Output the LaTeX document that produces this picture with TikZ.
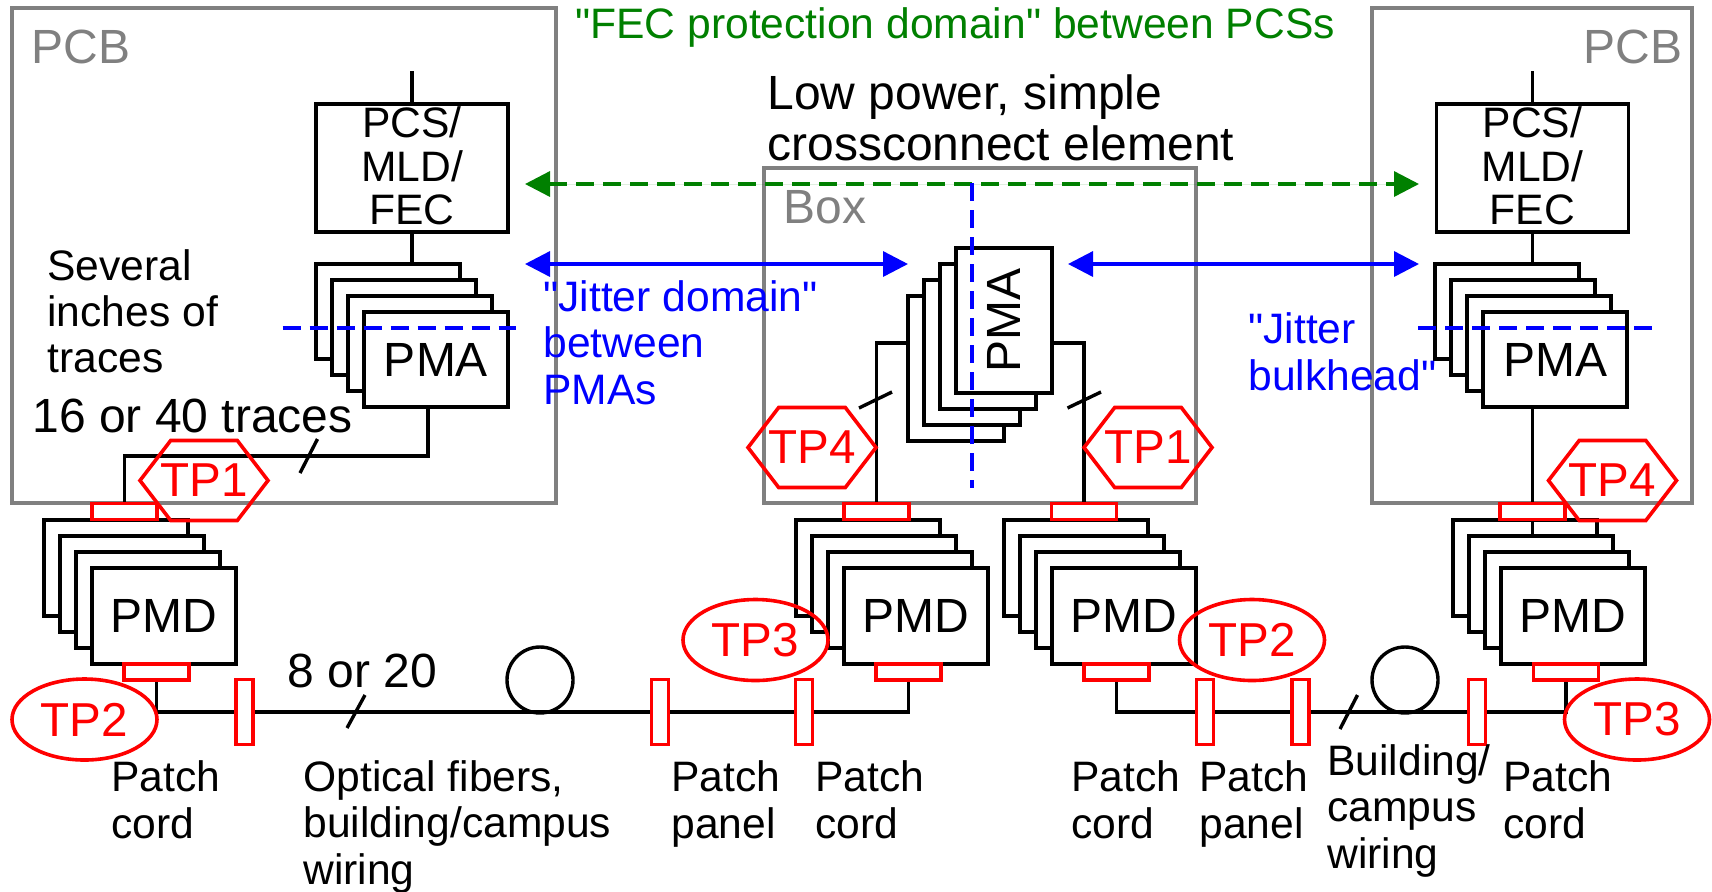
\documentclass[tikz,border=0pt]{standalone}
\usepackage{fontspec}
\setmainfont{Liberation Sans}[Ligatures=TeXOff]
\usetikzlibrary{arrows.meta, shapes.geometric, shapes.symbols}
\definecolor{fecgreen}{RGB}{0,128,0}
\definecolor{edgegray}{RGB}{128,128,128}
\tikzset{
  wire/.style={draw=black, line width=1.7pt},
  layer/.style={draw=black, fill=white, line width=1.7pt, inner sep=0pt, outer sep=0pt, anchor=north west, font=\fontsize{24}{26}\selectfont},
  pmabox/.style={layer, minimum width=72pt, minimum height=47.5pt},
  pmdbox/.style={layer, minimum width=72pt, minimum height=48pt},
  upbox/.style={layer, minimum width=48pt, minimum height=72.5pt},
  pcsbox/.style={draw=black, line width=1.7pt, inner sep=0pt, outer sep=0pt, minimum width=96pt, minimum height=64pt, align=center, text depth=2pt, font=\fontsize{21.3}{21.75}\selectfont},
  frame/.style={draw=edgegray, line width=1.7pt, inner sep=0pt, outer sep=0pt, anchor=north west},
  conn/.style={draw=red, line width=1.8pt, fill=white, inner sep=0pt, minimum width=32.5pt, minimum height=8pt},
  patch/.style={draw=red, line width=1.8pt, fill=white, inner sep=0pt, minimum width=8.5pt, minimum height=32.5pt},
  coil/.style={draw=black, line width=1.7pt, circle, inner sep=0pt, minimum size=33pt},
  tphex/.style={draw=red, line width=1.8pt, signal, signal to=east and west, signal pointer angle=105, inner sep=0pt, minimum width=64pt, minimum height=40pt, label={[text=red, font=\fontsize{23.8}{26}\selectfont]center:#1}},
  tpoval/.style={draw=red, text=red, line width=1.8pt, ellipse, inner sep=0pt, minimum width=72.5pt, minimum height=40.5pt, font=\fontsize{23.8}{26}\selectfont},
  small/.style={inner sep=0pt, anchor=base west, align=left, font=\fontsize{21.3}{23.25}\selectfont},
  big/.style={inner sep=0pt, anchor=base west, align=left, font=\fontsize{24}{25.5}\selectfont},
  graytext/.style={big, text=edgegray},
  bluetext/.style={small, text=blue},
  bluearrow/.style={draw=blue, line width=1.7pt, {Triangle[length=12.5pt,width=12.5pt]}-{Triangle[length=12.5pt,width=12.5pt]}},
  greenarrow/.style={bluearrow, draw=fecgreen, fill=fecgreen, dash pattern=on 9pt off 4.5pt},
  bluedash/.style={draw=blue, line width=1.7pt, dash pattern=on 9pt off 4.5pt}
}
\begin{document}
\begin{tikzpicture}[x=0.5pt, y=-0.5pt]
  \useasboundingbox (0,0) rectangle (1712,891);

  \node [frame, minimum width=272pt, minimum height=247.5pt] (pcb_l) at (12,8) {};
  \node [frame, minimum width=160pt, minimum height=247.5pt] (pcb_r) at (1372,8) {};
  \node [frame, minimum width=216pt, minimum height=167.5pt] (box_m) at (764,168) {};

  \coordinate (top_l) at (412,71);
  \coordinate (top_r) at (1532.5,71);
  \coordinate (turn_a) at (428,456);
  \coordinate (turn_b) at (876.5,343);
  \coordinate (turn_c) at (1084,343);
  \coordinate (fib_a) at (540,712);
  \coordinate (fib_b) at (1405,712);
  \coordinate (pmd_in) at (1532.5,536);
  \coordinate (dom_a) at (525,184);
  \coordinate (dom_b) at (1419,184);
  \coordinate (jit_a) at (525,264);
  \coordinate (jit_b) at (908,264);
  \coordinate (jit_c) at (1068,264);
  \coordinate (jit_d) at (1419,264);

  \node [pcsbox] (pcs_l) at (412,168) {PCS/\\MLD/\\FEC};
  \node [pcsbox] (pcs_r) at (1532.5,168) {PCS/\\MLD/\\FEC};

  \node [pmabox] (pma_l1) at (316,264) {};
  \node [pmabox] (pma_l2) at (332,280) {};
  \node [pmabox] (pma_l3) at (348,296) {};
  \node [pmabox] (pma_l4) at (364,312) {PMA};
  \node [pmabox] (pma_r1) at (1435,264) {};
  \node [pmabox] (pma_r2) at (1451,280) {};
  \node [pmabox] (pma_r3) at (1467,296) {};
  \node [pmabox] (pma_r4) at (1483,312) {PMA};
  \node [upbox] (pma_m1) at (908,296) {};
  \node [upbox] (pma_m2) at (924,280) {};
  \node [upbox] (pma_m3) at (940,264) {};
  \node [upbox] (pma_m4) at (956,248) {\rotatebox{90}{PMA}};

  \node [pmdbox] (pmd_a1) at (44,520) {};
  \node [pmdbox] (pmd_a2) at (60,536) {};
  \node [pmdbox] (pmd_a3) at (76,552) {};
  \node [pmdbox] (pmd_a4) at (92,568) {PMD};
  \node [pmdbox] (pmd_b1) at (796,520) {};
  \node [pmdbox] (pmd_b2) at (812,536) {};
  \node [pmdbox] (pmd_b3) at (828,552) {};
  \node [pmdbox] (pmd_b4) at (844,568) {PMD};
  \node [pmdbox] (pmd_c1) at (1004,520) {};
  \node [pmdbox] (pmd_c2) at (1020,536) {};
  \node [pmdbox] (pmd_c3) at (1036,552) {};
  \node [pmdbox] (pmd_c4) at (1052,568) {PMD};
  \node [pmdbox] (pmd_d1) at (1453,520) {};
  \node [pmdbox] (pmd_d2) at (1469,536) {};
  \node [pmdbox] (pmd_d3) at (1485,552) {};
  \node [pmdbox] (pmd_d4) at (1501,568) {PMD};

  \node [coil] (coil_a) at (540,680) {};
  \node [coil] (coil_b) at (1405,680) {};

  \node [conn] (conn_a) at (124.5,511.5) {};
  \node [conn] (conn_b) at (156.5,672) {};
  \node [conn] (conn_c) at (876.5,511.5) {};
  \node [conn] (conn_d) at (908.5,672) {};
  \node [conn] (conn_e) at (1084,511.5) {};
  \node [conn] (conn_f) at (1116.5,672) {};
  \node [conn] (conn_g) at (1532.5,511.5) {};
  \node [conn] (conn_h) at (1566,672) {};

  \draw [wire] (top_l) -- (pcs_l.north);
  \draw [wire] (top_r) -- (pcs_r.north);
  \draw [wire] (pcs_l.south) -- (pcs_l.south |- pma_l1.north);
  \draw [wire] (pcs_r.south) -- (pcs_r.south |- pma_r1.north);
  \draw [wire] (pma_l4.south -| turn_a) -- (turn_a) -| (conn_a.north);
  \draw [wire] (conn_c.north) |- (turn_b) -- (pma_m1.west |- turn_b);
  \draw [wire] (pma_m4.east |- turn_c) -- (turn_c) -- (conn_e.north);
  \draw [wire] (pma_r4.south -| pcs_r) -- (conn_g.north);
  \draw [wire] (conn_g.south) -- (pmd_in);
  \draw [wire] (conn_b.south) |- (fib_a) -| (conn_d.south);
  \draw [wire] (conn_f.south) |- (fib_b) -| (conn_h.south);

  \draw [wire] (300,473) -- (317.5,439);
  \draw [wire] (347,728) -- (365,695);
  \draw [wire] (1340,729) -- (1357.5,695);
  \draw [wire] (859,408) -- (892,392);
  \draw [wire] (1067.5,408) -- (1101,392);

  \node [patch] (patch_a) at (244.5,712) {};
  \node [patch] (patch_b) at (660,712) {};
  \node [patch] (patch_c) at (804,712) {};
  \node [patch] (patch_d) at (1205,712) {};
  \node [patch] (patch_e) at (1300.5,712) {};
  \node [patch] (patch_f) at (1477,712) {};

  \draw [greenarrow] (dom_a) -- (dom_b);
  \draw [bluearrow] (jit_a) -- (jit_b);
  \draw [bluearrow] (jit_c) -- (jit_d);
  \coordinate (bulk_a) at (282.5,328);
  \coordinate (bulk_b) at (516,328);
  \coordinate (bulk_c) at (1418,328);
  \coordinate (bulk_d) at (1652,328);
  \coordinate (bulk_e) at (972,183);
  \coordinate (bulk_f) at (972,488);
  \draw [bluedash] (bulk_a) -- (bulk_b);
  \draw [bluedash] (bulk_c) -- (bulk_d);
  \draw [bluedash] (bulk_e) -- (bulk_f);

  \node [tphex=TP1] (tp1_l) at (204,480.5) {};
  \node [tphex=TP4] (tp4_m) at (812,447.5) {};
  \node [tphex=TP1] (tp1_m) at (1148,447.5) {};
  \node [tphex=TP4] (tp4_r) at (1612.5,480.5) {};
  \node [tpoval] (tp2_l) at (84.5,719.5) {TP2};
  \node [tpoval] (tp3_m) at (755.5,640) {TP3};
  \node [tpoval] (tp2_m) at (1252,640) {TP2};
  \node [tpoval] (tp3_r) at (1637,719.5) {TP3};

  \node [graytext] (pcb_a) at (31,63) {PCB};
  \node [graytext] (pcb_b) at (1583,63) {PCB};
  \node [graytext] (box_a) at (783,223) {Box};
  \node [small, text=fecgreen] (fec_a) at (575,38) {"FEC protection domain" between PCSs};
  \node [big] (low_a) at (767,160) {Low power, simple\\crossconnect element};
  \node [small, font=\fontsize{21.3}{23}\selectfont] (txt_a) at (47,372) {Several\\inches of\\traces};
  \node [big] (txt_b) at (32,432) {16 or 40 traces};
  \node [big] (txt_c) at (287,687) {8 or 20};
  \node [bluetext] (jit_e) at (543,404) {"Jitter domain"\\between\\PMAs};
  \node [bluetext] (jit_f) at (1248,390) {"Jitter\\bulkhead"};
  \node [small] (lab_a) at (111,838) {Patch\\cord};
  \node [small] (lab_b) at (303,884) {Optical fibers,\\building/campus\\wiring};
  \node [small] (lab_c) at (671,838) {Patch\\panel};
  \node [small] (lab_d) at (815,838) {Patch\\cord};
  \node [small] (lab_e) at (1071,838) {Patch\\cord};
  \node [small] (lab_f) at (1199,838) {Patch\\panel};
  \node [small] (lab_g) at (1327,868) {Building/\\campus\\wiring};
  \node [small] (lab_h) at (1503,838) {Patch\\cord};
\end{tikzpicture}
\end{document}
